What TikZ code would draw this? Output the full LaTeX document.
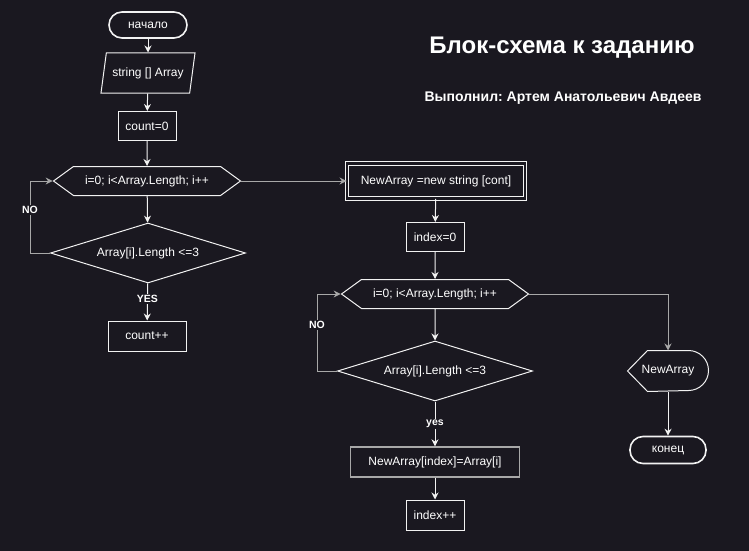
\documentclass[tikz,border=0pt]{standalone}
\usepackage{fontspec}
\setmainfont{Liberation Sans}
\frenchspacing
\usetikzlibrary{shapes.geometric,shapes.symbols,arrows.meta}
\definecolor{bg}{HTML}{1A1820}
\definecolor{ln}{HTML}{F2F2F2}
\definecolor{gr}{HTML}{A8A8A8}
\begin{document}
\begin{tikzpicture}[x=1pt,y=-1pt,->,>={Stealth[length=7pt,width=7pt]},line width=1pt,draw=ln,
  every node/.style={text=white,font=\fontsize{12}{14}\selectfont},
  box/.style={draw=ln,rectangle,minimum height=29pt,inner sep=3pt},
  term/.style={draw=ln,rectangle,rounded corners=13pt,line width=1.6pt,minimum height=26pt},
  io/.style={draw=ln,trapezium,trapezium left angle=68,trapezium right angle=112,
    trapezium stretches body,minimum width=94pt,minimum height=40pt,inner sep=1pt},
  hex/.style={draw=ln,signal,signal to=west and east,signal pointer angle=72,
    minimum width=187pt,minimum height=29pt,inner sep=0pt},
  dec/.style={draw=ln,diamond,aspect=3.2,minimum width=195pt,minimum height=60pt,inner sep=0pt},
  lbl/.style={font=\fontsize{10.5}{12}\selectfont\bfseries,fill=bg,inner sep=1pt}]
\useasboundingbox (0,0) rectangle (749,551);
\fill[bg] (0,0) rectangle (749,551);
%title
  \node (title) at (562,48) {\fontsize{24}{28}\selectfont\bfseries Блок-схема к заданию};
  \node (author) at (563,98) {\fontsize{14}{17}\selectfont\bfseries Выполнил: Артем Анатольевич Авдеев};
%left column
  \node[term,minimum width=78pt] (start) at (148,25) {начало};
  \node[io] (input) at (148,73) {string [] Array};
  \node[box,minimum width=58pt] (cnt) at (147,126) {count=0};
  \node[hex] (loopA) at (147,181) {i=0; i<Array.Length; i++};
  \node[dec] (chkA) at (148,253) {Array[i].Length <=3};
  \node[box,minimum width=78pt,minimum height=30pt] (inc) at (147,336) {count++};
%right column
  \node[box,double=bg,double distance=2.5pt,line width=0.9pt,minimum width=178pt,minimum height=35pt] (newarr) at (436,181) {NewArray =new string [cont]};
  \node[box,minimum width=58pt] (idx) at (435,237) {index=0};
  \node[hex] (loopB) at (435,294) {i=0; i<Array.Length; i++};
  \node[dec] (chkB) at (435,371) {Array[i].Length <=3};
  \node[box,draw=gr,line width=1.4pt,minimum width=169pt,minimum height=30pt] (copy) at (435,462) {NewArray[index]=Array[i]};
  \node[box,minimum width=58pt,minimum height=30pt] (idxinc) at (435,515) {index++};
%output
  \node[minimum width=80pt,minimum height=40pt,inner sep=0pt] (out) at (668,371) {NewArray};
  \draw[-] (out.west) -- ([xshift=20pt]out.north west) -- ([xshift=-20pt]out.north east)
    arc[start angle=90,end angle=-90,radius=20pt] -- ([xshift=20pt]out.south west) -- cycle;
  \node[term,minimum width=76pt,minimum height=27pt] (stop) at (668,450) {конец};
%paths
  \path[draw=ln]
    (start) edge (input)
    (input) edge (cnt)
    (cnt) edge (loopA)
    (loopA) edge (chkA)
    (chkA) edge node[lbl,pos=0.42] {YES} (inc)
    (newarr) edge (idx)
    (idx) edge (loopB)
    (loopB) edge (chkB)
    (chkB) edge node[lbl,pos=0.5] {yes} (copy)
    (copy) edge (idxinc)
    (out) edge (stop);
  \draw[gr] (chkA.west) -- ++(-20,0) |- node[lbl,pos=0.3] {NO} (loopA.west);
  \draw[gr] (chkB.west) -- ++(-20,0) |- node[lbl,pos=0.3] {NO} (loopB.west);
  \draw[gr] (loopA.east) -- (newarr.west);
  \draw[gr] (loopB.east) -| (out.north);
\end{tikzpicture}
\end{document}
